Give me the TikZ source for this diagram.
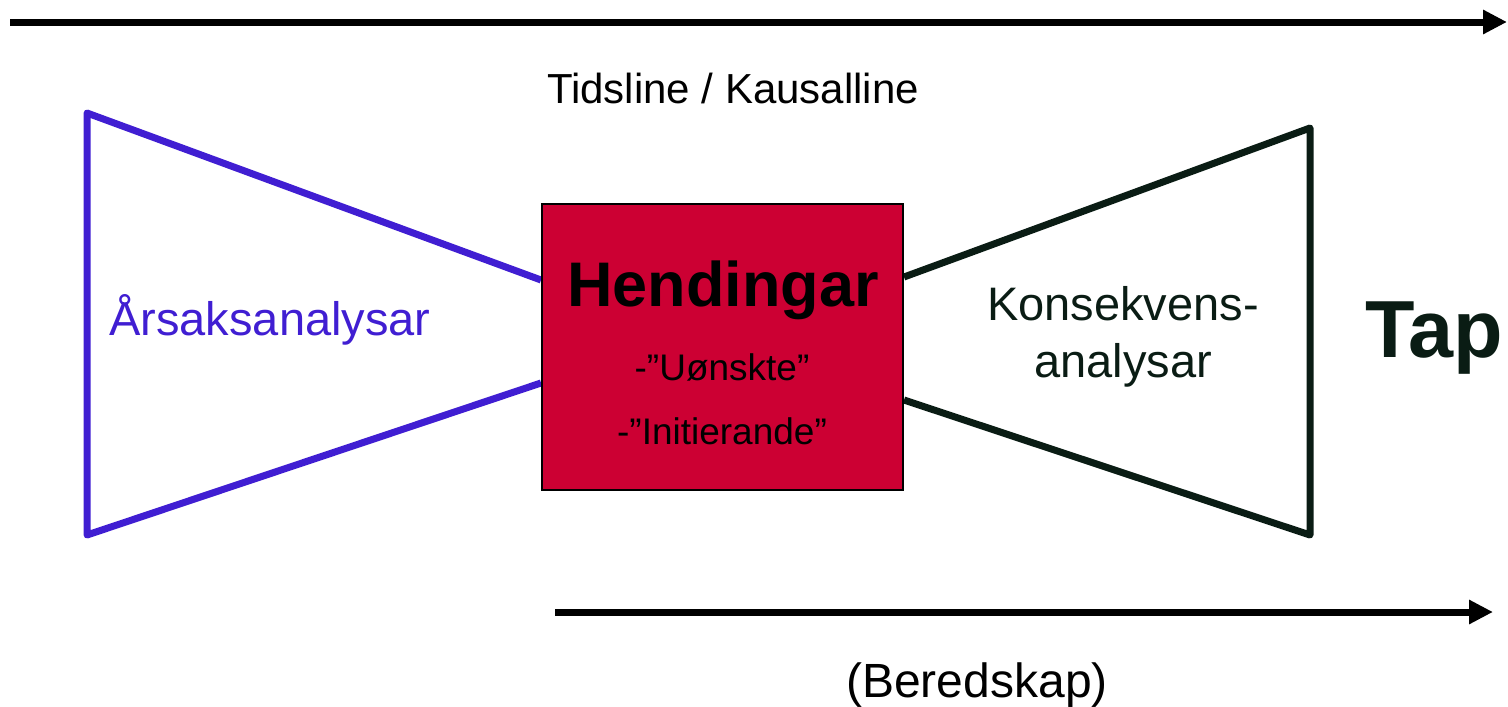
\documentclass[tikz,border=0pt]{standalone}
\usepackage{fontspec}
\setmainfont{Liberation Sans}
\usetikzlibrary{arrows.meta,calc,backgrounds}
\definecolor{cblue}{RGB}{64,30,210}
\definecolor{cdark}{RGB}{10,28,20}
\definecolor{cred}{RGB}{204,0,51}
\begin{document}
\begin{tikzpicture}[x=1pt,y=-1pt,
  arr/.style={line width=7pt,-{Triangle[length=24pt,width=23pt]}},
  bl/.style={line width=7pt,draw=cblue,line join=round},
  dk/.style={line width=7pt,draw=cdark,line join=round},
  lbl/.style={inner sep=0,anchor=base},
  fs/.style={font=\fontsize{#1}{#1}\selectfont},
  fsb/.style={font=\fontsize{#1}{#1}\selectfont\bfseries}]
\useasboundingbox (0,0) rectangle (1508,707);
% time arrows
\coordinate (t0) at (10,22);
\coordinate (t1) at (1507,22);
\draw[arr] (t0) -- (t1);
\coordinate (b0) at (555,612);
\coordinate (b1) at (1493,612);
\draw[arr] (b0) -- (b1);
% central box
\node[draw=black,line width=2pt,fill=cred,minimum width=361pt,minimum height=286pt,inner sep=0] (hend) at (722.5,347) {};
\node[lbl,fsb=63] (h1) at (723,306) {Hendingar};
\node[lbl,fs=37] (h2) at (722,380) {-”Uønskte”};
\node[lbl,fs=37] (h3) at (722,444) {-”Initierande”};
% trapezoid corners
\coordinate (ltop) at (87,113);
\coordinate (lbot) at (87,535);
\coordinate (rtop) at (1310,128);
\coordinate (rbot) at (1310,535);
\begin{scope}[on background layer]
\draw[bl] ($(hend.north west)+(0,77)$) -- (ltop) -- (lbot) -- ($(hend.north west)+(0,180)$);
\draw[dk] ($(hend.north east)+(0,74)$) -- (rtop) -- (rbot) -- ($(hend.north east)+(0,197)$);
\end{scope}
% labels
\node[lbl,fs=42] (tid) at (733,103) {Tidsline / Kausalline};
\node[lbl,fs=47,text=cblue] (aars) at (270,335) {Årsaksanalysar};
\node[lbl,fs=47,text=cdark] (kon1) at (1123,320) {Konsekvens-};
\node[lbl,fs=47,text=cdark] (kon2) at (1123,377) {analysar};
\node[lbl,fsb=81,text=cdark] (tap) at (1434,357) {Tap};
\node[lbl,fs=48] (ber) at (977,697) {(Beredskap)};
\end{tikzpicture}
\end{document}
